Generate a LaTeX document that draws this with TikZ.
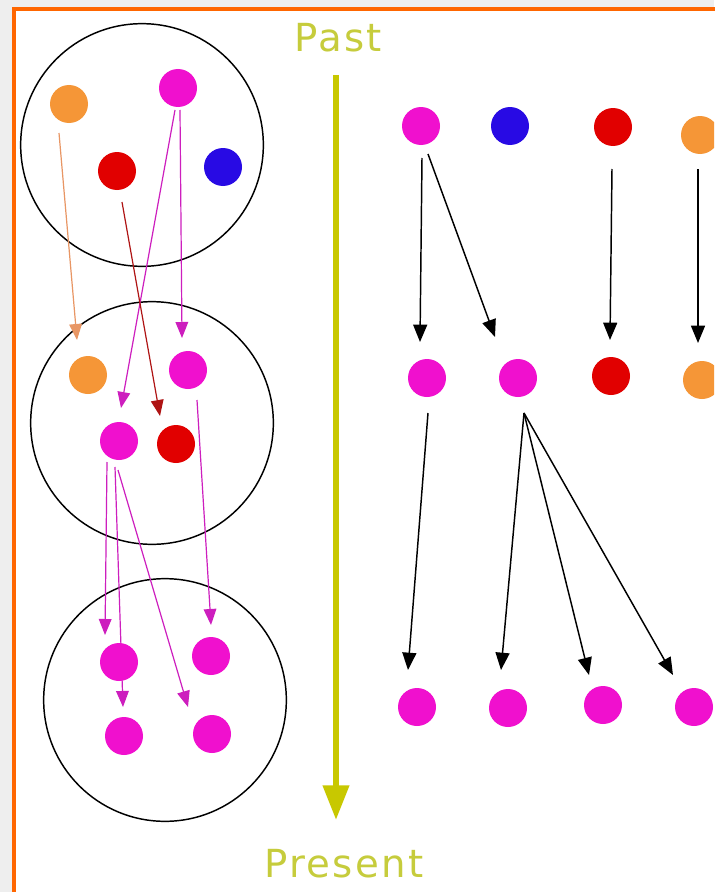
\documentclass[tikz,border=0pt]{standalone}
\usepackage{fontspec}
\newfontfamily\timefont[LetterSpace=6]{DejaVu Sans}
\usetikzlibrary{arrows.meta,calc}
\pgfdeclarelayer{paper}
\pgfdeclarelayer{links}
\pgfsetlayers{paper,links,main}

\definecolor{pagegray}{RGB}{238,238,238}
\definecolor{frameorange}{RGB}{255,102,0}
\definecolor{timeyellow}{RGB}{200,200,0}
\definecolor{timetext}{RGB}{198,204,60}
\definecolor{cmag}{RGB}{240,16,206}
\definecolor{cblue}{RGB}{40,10,228}
\definecolor{cred}{RGB}{225,0,0}
\definecolor{corange}{RGB}{245,150,55}
\definecolor{lmag}{RGB}{205,30,190}
\definecolor{lred}{RGB}{175,20,20}
\definecolor{lorange}{RGB}{232,150,100}

\begin{document}
\begin{tikzpicture}[x=0.75pt,y=-0.75pt,
  ball/.style={circle, fill=#1, minimum size=28.5pt, inner sep=0pt},
  group/.style={circle, draw=black, line width=1.1pt, minimum size=182pt, inner sep=0pt},
  link/.style={draw=#1, line width=0.9pt, -{Triangle[length=12pt,width=9.5pt]}},
  flow/.style={draw=black, line width=1.1pt, -{Triangle[length=13pt,width=10.5pt]}},
  timelabel/.style={text=timetext, font=\timefont\fontsize{29}{32}\selectfont, inner sep=0pt}]

\useasboundingbox (0,0) rectangle (714,892);
\clip (0,0) rectangle (714,892);

% page and frame
\begin{pgfonlayer}{paper}
  \fill[pagegray] (0,0) rectangle (714,892);
  \draw[frameorange, line width=3.4pt, fill=white] (14,9) rectangle (760,940);
\end{pgfonlayer}

% time axis
\node[timelabel] (past) at (338,38) {Past};
\node[timelabel] (present) at (344,864) {Present};
\coordinate (tTop) at (336,75);
\coordinate (tEnd) at (336,820);
\draw[timeyellow, line width=4.6pt, -{Triangle[length=26pt,width=19pt]}] (tTop) -- (tEnd);

% left: three groups
\begin{pgfonlayer}{links}
  \node[group] (G1) at (142,145) {};
  \node[group] (G2) at (152,423) {};
  \node[group] (G3) at (165,700) {};
\end{pgfonlayer}

\node[ball=corange] (Ao) at (69,104) {};
\node[ball=cmag]    (Am) at (178,88) {};
\node[ball=cred]    (Ar) at (117,171) {};
\node[ball=cblue]   (Ab) at (223,167) {};

\node[ball=corange] (Bo)  at (88,375) {};
\node[ball=cmag]    (Bm1) at (188,370) {};
\node[ball=cmag]    (Bm2) at (119,441) {};
\node[ball=cred]    (Br)  at (176,444) {};

\node[ball=cmag] (Cm1) at (119,662) {};
\node[ball=cmag] (Cm2) at (211,656) {};
\node[ball=cmag] (Cm3) at (124,736) {};
\node[ball=cmag] (Cm4) at (212,734) {};

\begin{pgfonlayer}{links}
  \draw[link=lorange] ($(Ao)+(-10,29)$) -- ($(Bo)+(-11,-35)$);
  \draw[link=lmag]    ($(Am)+(-3,22)$)  -- ($(Bm2)+(2,-33)$);
  \draw[link=lmag]    ($(Am)+(2,22)$)   -- ($(Bm1)+(-6,-32)$);
  \draw[link=lred]    ($(Ar)+(5,31)$)   -- ($(Br)+(-16,-28)$);
  \draw[link=lmag]    ($(Bm2)+(-12,21)$) -- ($(Cm1)+(-14,-27)$);
  \draw[link=lmag]    ($(Bm2)+(-4,26)$)  -- ($(Cm3)+(-1,-29)$);
  \draw[link=lmag]    ($(Bm2)+(-1,29)$)  -- ($(Cm4)+(-24,-27)$);
  \draw[link=lmag]    ($(Bm1)+(9,30)$)   -- ($(Cm2)+(0,-31)$);
\end{pgfonlayer}

% right: generations as rows
\node[ball=cmag]    (R1m) at (421,126) {};
\node[ball=cblue]   (R1b) at (510,126) {};
\node[ball=cred]    (R1r) at (613,127) {};
\node[ball=corange] (R1o) at (700,135) {};

\node[ball=cmag]    (R2a) at (427,378) {};
\node[ball=cmag]    (R2b) at (518,378) {};
\node[ball=cred]    (R2r) at (611,376) {};
\node[ball=corange] (R2o) at (702,380) {};

\node[ball=cmag] (R3a) at (417,707) {};
\node[ball=cmag] (R3b) at (508,708) {};
\node[ball=cmag] (R3c) at (603,705) {};
\node[ball=cmag] (R3d) at (694,707) {};

\draw[flow] ($(R1m)+(1,32)$) -- ($(R2a)+(-7,-36)$);
\draw[flow] ($(R1m)+(7,28)$) -- ($(R2b)+(-23,-41)$);
\draw[flow] ($(R1r)+(-1,42)$) -- ($(R2r)+(-1,-36)$);
\draw[flow] ($(R1o)+(-2,34)$) -- ($(R2o)+(-4,-37)$);

\draw[flow] ($(R2a)+(1,35)$) -- ($(R3a)+(-9,-37)$);
\coordinate (fan) at ($(R2b)+(6,35)$);
\draw[flow] (fan) -- ($(R3b)+(-7,-38)$);
\draw[flow] (fan) -- ($(R3c)+(-14,-30)$);
\draw[flow] (fan) -- ($(R3d)+(-21,-32)$);

\end{tikzpicture}
\end{document}
